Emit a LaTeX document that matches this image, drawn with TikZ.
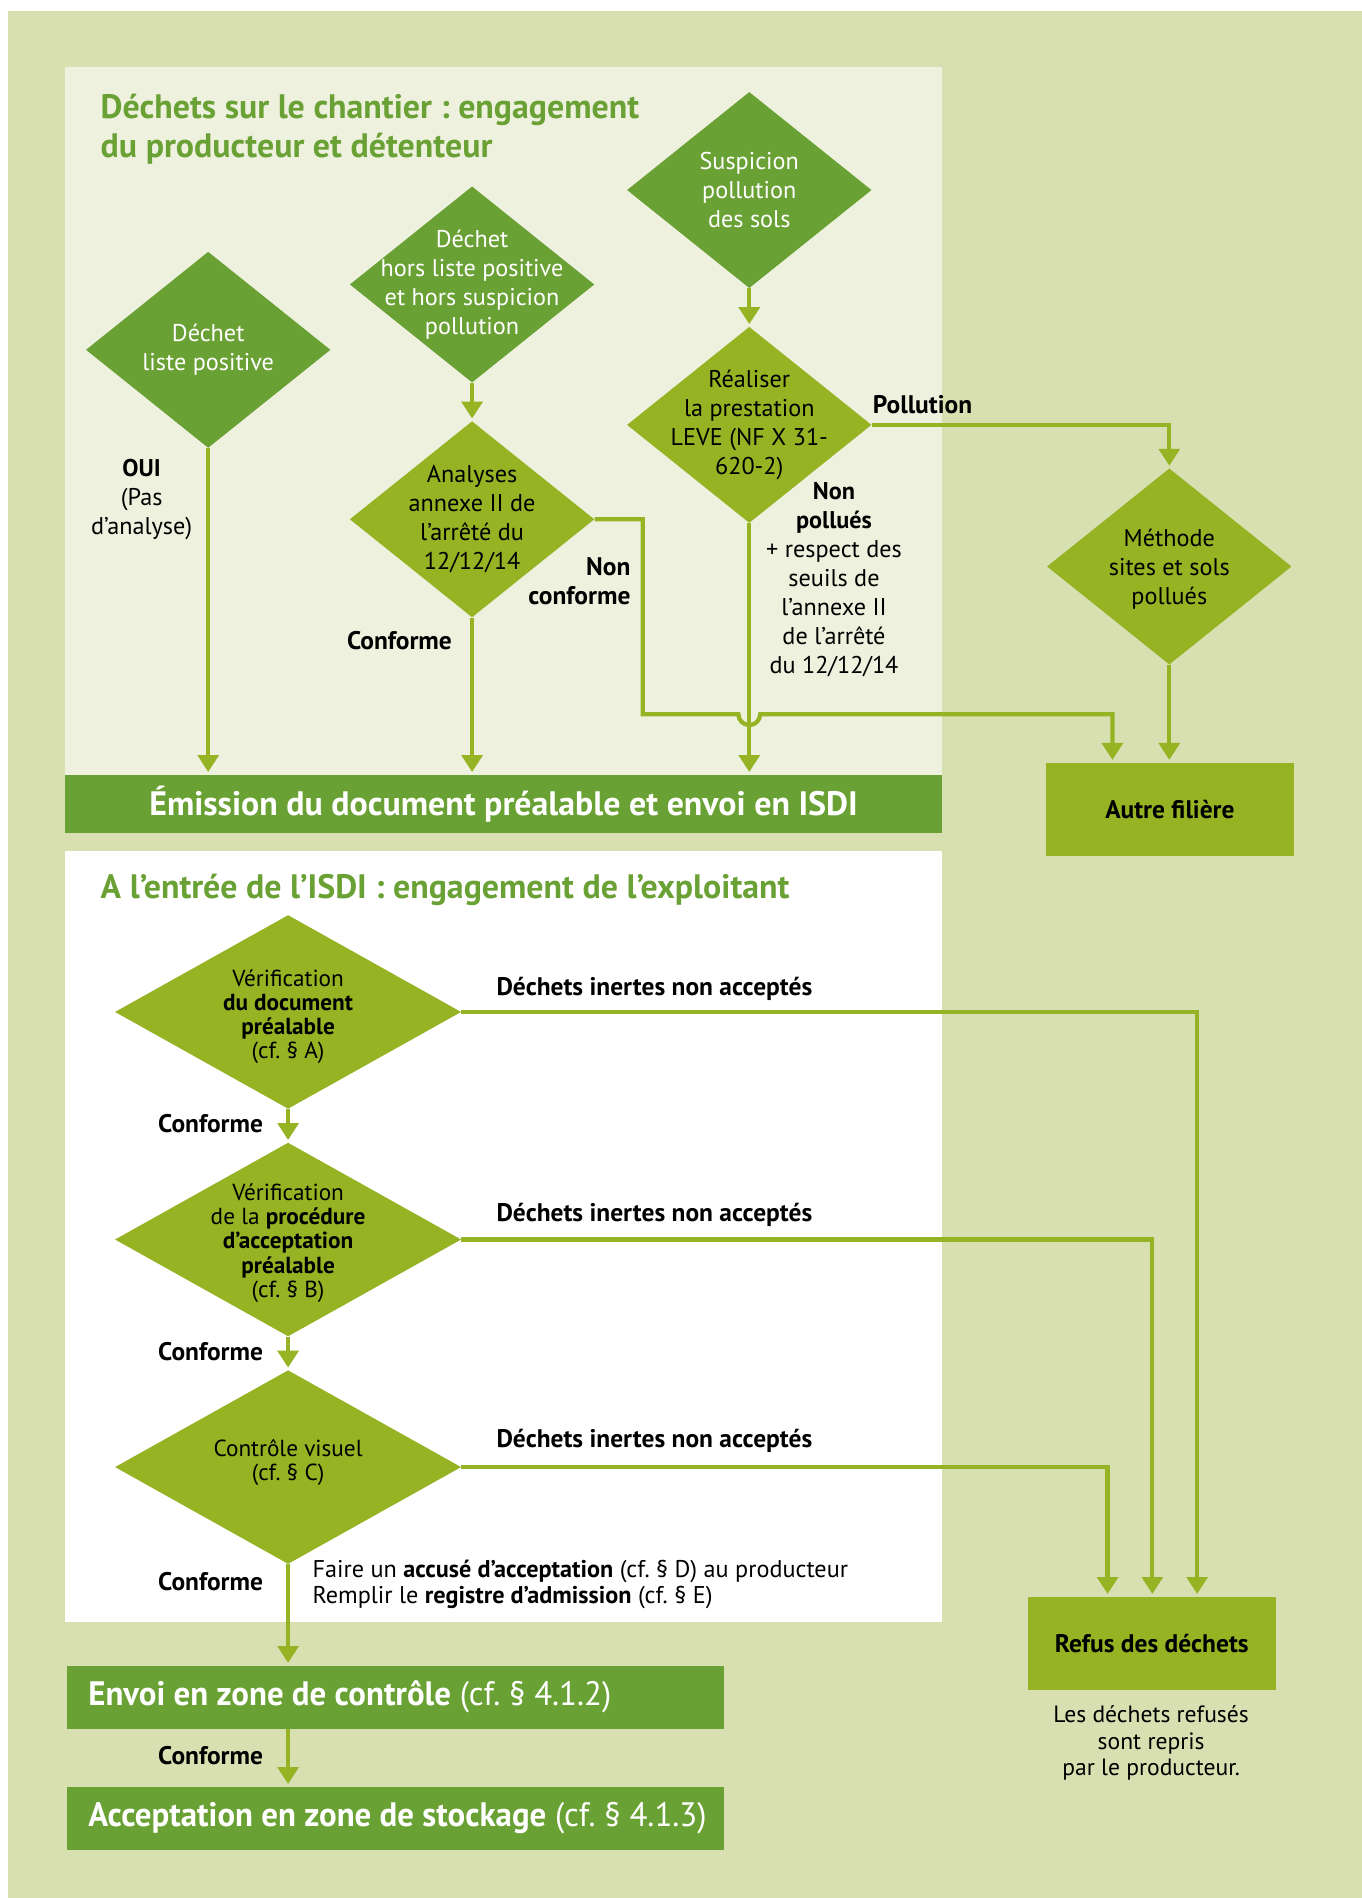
\documentclass[tikz,border=0pt]{standalone}
\usepackage{fontspec}
\setmainfont{PT Sans}
\newfontfamily\barfont{PT Sans}[FakeStretch=0.97]
\usetikzlibrary{shapes.geometric,arrows.meta}
\definecolor{bgc}{HTML}{D8DFB0}
\definecolor{panel}{HTML}{EEF1DE}
\definecolor{dkg}{HTML}{6AA134}
\definecolor{ltg}{HTML}{96B324}
\frenchspacing
\begin{document}
\begin{tikzpicture}[x=1pt,y=-1pt,
  dia/.style={diamond,inner sep=0pt,minimum width=202pt,minimum height=162pt,draw=none},
  diadk/.style={dia,fill=dkg},
  dialt/.style={dia,fill=ltg},
  diabig/.style={diamond,inner sep=0pt,minimum width=286pt,minimum height=160pt,draw=none,fill=ltg},
  wtxt/.style={font=\fontsize{20}{24}\selectfont,align=center,text=white},
  btxt/.style={font=\fontsize{20}{24}\selectfont,align=center,text=black},
  stxt/.style={font=\fontsize{19.2}{20}\selectfont,align=center,text=black},
  lab/.style={font=\fontsize{21}{24}\selectfont\bfseries,text=black,inner sep=0pt},
  ttl/.style={font=\fontsize{28}{32}\selectfont\bfseries,text=dkg,inner sep=0pt},
  flow/.style={draw=ltg,line width=3.5pt,-{Triangle[width=17pt,length=14pt]},shorten >=2pt},
  darkbar/.style={rectangle,fill=dkg,inner sep=0pt,text=white,font=\fontsize{28}{32}\selectfont},
  bartxt/.style={inner sep=0pt,text=white,font=\barfont\fontsize{28}{32}\selectfont,anchor=west},
  litebox/.style={rectangle,fill=ltg,inner sep=0pt,text=black,font=\fontsize{21}{24}\selectfont\bfseries},
]
\useasboundingbox (0,0) rectangle (1125,1568);
\fill[white] (0,0) rectangle (1125,1568);
\fill[bgc] (7,9) rectangle (1125,1568);
% panels
\fill[panel] (54,55) rectangle (778,688);
\fill[white] (54,703) rectangle (778,1340);

% titles
\node[ttl,anchor=base west] (t1a) at (83,98) {Déchets sur le chantier : engagement};
\node[ttl,anchor=base west] (t1b) at (83,130) {du producteur et détenteur};
\node[ttl,anchor=base west] (t2) at (83,742) {A l’entrée de l’ISDI : engagement de l’exploitant};

% top diamonds
\node[diadk] (d1) at (172,289) {};
\node[diadk] (d2) at (390,235) {};
\node[diadk] (d3) at (619,157) {};
\node[dialt] (d4) at (390,429) {};
\node[dialt] (d5) at (619,351) {};
\node[dialt] (d6) at (966,468) {};
\node[wtxt] at (d1) {Déchet\\liste positive};
\node[wtxt] at (d2) {Déchet\\hors liste positive\\et hors suspicion\\pollution};
\node[wtxt] at (d3) {Suspicion\\pollution\\des sols};
\node[btxt] at (d4) {Analyses\\annexe II de\\l’arrêté du\\12/12/14};
\node[btxt] at (d5) {Réaliser\\la prestation\\LEVE (NF X 31-\\620-2)};
\node[btxt] at (d6.center) [yshift=-2pt] {Méthode\\sites et sols\\pollués};

% bar and box
\node[darkbar,minimum width=724pt,minimum height=48pt] (emi) at (416,664) {\bfseries Émission du document préalable et envoi en ISDI};
\node[litebox,minimum width=205pt,minimum height=77pt] (af) at (966.5,668.5) {Autre filière};

% top labels
\node[font=\fontsize{20}{24}\selectfont,align=center,inner sep=0pt] (oui) at (117,413) {\textbf{OUI}\\(Pas\\d’analyse)};
\node[lab] (c0) at (330,529) {Conforme};
\node[lab,align=right,anchor=east] (nc) at (521,480) {Non\\conforme};
\node[lab,anchor=west] (pol) at (721,334) {Pollution};
\node[font=\fontsize{20}{24}\selectfont,align=center,inner sep=0pt] (np) at (689,479) {\textbf{Non}\\\textbf{pollués}\\+ respect des\\seuils de\\l’annexe II\\de l’arrêté\\du 12/12/14};

% top connectors
\coordinate (k1) at (531,429);
\coordinate (k2) at (531,590);
\coordinate (k3) at (610,590);
\coordinate (k4) at (919,590);
\coordinate (k5) at (966,351);
\draw[flow] (d1.south) -- (d1.south |- emi.north);
\draw[flow] (d2.south) -- (d4.north);
\draw[flow] (d3.south) -- (d5.north);
\draw[flow] (d4.south) -- (d4.south |- emi.north);
\draw[flow] (d5.south) -- (d5.south |- emi.north);
\draw[flow] (d4.east) -- (k1) -- (k2) -- (k3) arc[start angle=180,end angle=0,radius=9] -- (k4) -- (af.north -| k4);
\draw[flow] (d5.east) -- (k5) -- (d6.north);
\draw[flow] (d6.south) -- (af.north -| d6.south);

% lower diamonds
\node[diabig] (da) at (238,836) {};
\node[diabig] (db) at (238,1024) {};
\node[diabig] (dc) at (238,1212) {};
\node[stxt] at (da.center) [yshift=-4pt] {Vérification\\\textbf{du document}\\\textbf{préalable}\\(cf. § A)};
\node[stxt] at (db.center) [yshift=-3pt] {Vérification\\de la \textbf{procédure}\\\textbf{d’acceptation}\\\textbf{préalable}\\(cf. § B)};
\node[stxt] at (dc.center) [yshift=4pt] {Contrôle visuel\\(cf. § C)};

\node[lab] (ca) at (174,928) {Conforme};
\node[lab] (cb) at (174,1117) {Conforme};
\node[lab] (cc) at (174,1307) {Conforme};
\node[lab] (cd) at (174,1450) {Conforme};

\node[lab,anchor=base west] (ra) at (410,822) {Déchets inertes non acceptés};
\node[lab,anchor=base west] (rb) at (410,1009) {Déchets inertes non acceptés};
\node[lab,anchor=base west] (rc) at (410,1196) {Déchets inertes non acceptés};

\node[font=\fontsize{20}{22}\selectfont,align=left,anchor=west,inner sep=0pt] (fa) at (258,1309) {Faire un \textbf{accusé d’acceptation} (cf. § D) au producteur\\Remplir le \textbf{registre d’admission} (cf. § E)};

\node[darkbar,minimum width=543pt,minimum height=52pt] (env) at (326.5,1402) {};
\node[bartxt] (envt) at ([xshift=18pt]env.west) {\textbf{Envoi en zone de contrôle} (cf. § 4.1.2)};
\node[darkbar,minimum width=543pt,minimum height=52pt] (acc) at (326.5,1502) {};
\node[bartxt] (acct) at ([xshift=18pt]acc.west) {\textbf{Acceptation en zone de stockage} (cf. § 4.1.3)};

\node[litebox,minimum width=205pt,minimum height=77pt] (rf) at (951.5,1357.5) {Refus des déchets};
\node[font=\fontsize{19.5}{22}\selectfont,align=center,inner sep=0pt] (rt) at (951,1440) {Les déchets refusés\\sont repris\\par le producteur.};

% lower connectors
\coordinate (q1) at (989,836);
\coordinate (q2) at (952,1024);
\coordinate (q3) at (915,1212);
\draw[flow] (da.south) -- (db.north);
\draw[flow] (db.south) -- (dc.north);
\draw[flow] (dc.south) -- (env.north -| dc.south);
\draw[flow] (env.south -| dc.south) -- (acc.north -| dc.south);
\draw[flow] (da.east) -- (q1) -- (rf.north -| q1);
\draw[flow] (db.east) -- (q2) -- (rf.north -| q2);
\draw[flow] (dc.east) -- (q3) -- (rf.north -| q3);
\end{tikzpicture}
\end{document}
